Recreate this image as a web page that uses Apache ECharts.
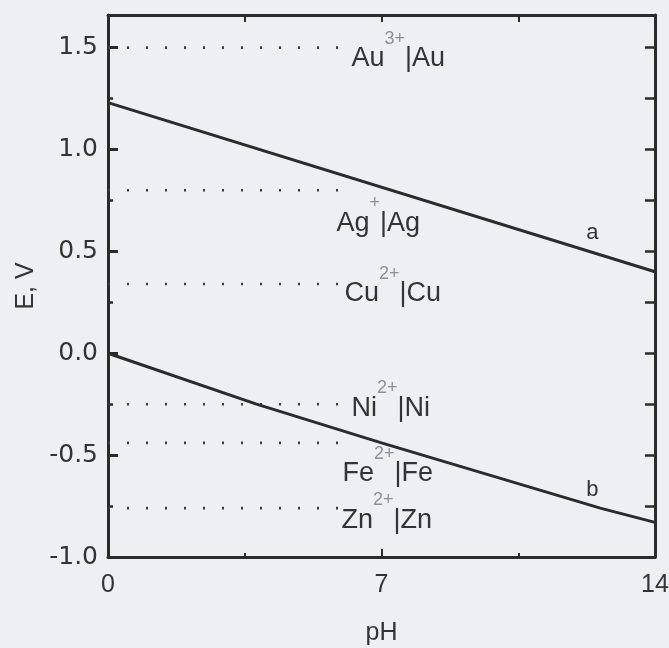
<!DOCTYPE html>
<html>
<head>
<meta charset="utf-8">
<script src="https://cdn.jsdelivr.net/npm/echarts@6/dist/echarts.min.js"></script>
<style>
  html, body { margin: 0; padding: 0; background: #edeff3; }
  #main { width: 669px; height: 648px; }
</style>
</head>
<body>
<div id="main"></div>
<script>
  // water stability lines
  const lineAPH = [0, 14]
  const lineAE = [1.23, 0.40]
  const lineBPH = [0, 3.8, 7, 12.6, 14]
  const lineBE = [0, -0.25, -0.44, -0.76, -0.83]

  // metal couples (dotted lines)
  const metals = ['Au', 'Ag', 'Cu', 'Ni', 'Fe', 'Zn']
  const charges = ['3+', '+', '2+', '2+', '2+', '2+']
  const potentials = [1.50, 0.80, 0.34, -0.25, -0.44, -0.76]
  const dotFrom = 0
  const dotTo = 5.9

  const xTicks = [0, 7, 14]
  const yTicks = [-1.0, -0.5, 0.0, 0.5, 1.0, 1.5]

  // label nudges [dx, dy] for each couple
  const labelOffsets = [[9, 11], [-6, 33], [2, 10], [9, 4], [0, 31], [-1, 12]]

  const ink = '#2b2b2b'
  const txt = '#333333'

  const series = []
  series.push({
    type: 'line', name: 'a', data: lineAPH.map((x, i) => [x, lineAE[i]]),
    symbol: 'none', lineStyle: { color: ink, width: 3 }, z: 5
  })
  series.push({
    type: 'line', name: 'b', data: lineBPH.map((x, i) => [x, lineBE[i]]),
    symbol: 'none', lineStyle: { color: ink, width: 3 }, z: 5
  })
  metals.forEach((m, i) => {
    series.push({
      type: 'line',
      name: m,
      data: [[dotFrom, potentials[i]], [dotTo, potentials[i]]],
      symbol: 'none',
      lineStyle: { color: '#3c3c3c', width: 2.6, type: [2, 17] }
    })
    series.push({
      type: 'scatter',
      name: m + ' label',
      data: [[dotTo, potentials[i]]],
      symbolSize: 0,
      itemStyle: { opacity: 1 },
      label: {
        show: true,
        position: 'right',
        distance: 4,
        offset: labelOffsets[i],
        formatter: '{el|' + m + '}{sup|' + charges[i] + '}{el||' + m + '}',
        rich: {
          el: { fontSize: 27, color: txt, fontFamily: 'Liberation Sans' },
          sup: { fontSize: 18, color: '#909090', fontFamily: 'Liberation Sans', padding: [0, 0, 40, 0] }
        }
      }
    })
  })
  // line tags a, b
  series.push({
    type: 'scatter', data: [[12.4, 0.59], [12.4, -0.67]], symbolSize: 0,
    itemStyle: { opacity: 1 },
    label: {
      show: true, position: 'inside',
      formatter: p => (p.dataIndex === 0 ? 'a' : 'b'),
      fontSize: 22, color: txt, fontFamily: 'Liberation Sans'
    }
  })

  const axisLine = { show: true, onZero: false, lineStyle: { color: ink, width: 3 } }

  const option = {
    backgroundColor: '#edeff3',
    animation: false,
    grid: { left: 108, right: 14, top: 15, bottom: 91, outerBoundsMode: 'none' },
    xAxis: [{
      type: 'value', min: 0, max: 14, interval: 7, position: 'bottom',
      name: 'pH', nameLocation: 'middle', nameGap: 64,
      nameTextStyle: { fontSize: 25, color: txt, fontFamily: 'Liberation Sans' },
      axisLine: axisLine,
      axisTick: { inside: true, length: 8, lineStyle: { color: ink, width: 2 } },
      minorTick: { show: true, splitNumber: 2, length: 4, lineStyle: { color: ink, width: 2 } },
      axisLabel: {
        margin: 16, fontSize: 25, color: txt, fontFamily: 'Liberation Sans',
        formatter: v => (xTicks.indexOf(v) >= 0 ? String(v) : '')
      },
      splitLine: { show: false }
    }, {
      type: 'value', min: 0, max: 14, interval: 3.5, position: 'top',
      axisLine: axisLine,
      axisTick: { inside: true, length: 7, lineStyle: { color: ink, width: 2 } },
      axisLabel: { show: false }, splitLine: { show: false }
    }],
    yAxis: [{
      type: 'value', min: -1, max: 1.66, interval: 0.5, position: 'left',
      name: 'E, V', nameLocation: 'middle', nameGap: 68, nameRotate: 90,
      nameTextStyle: { fontSize: 25, color: txt, fontFamily: 'Liberation Sans' },
      axisLine: axisLine,
      axisTick: { inside: true, length: 10, lineStyle: { color: ink, width: 3 } },
      axisLabel: {
        margin: 10, fontSize: 25, color: txt, fontFamily: 'DejaVu Sans',
        showMaxLabel: false,
        formatter: v => (yTicks.indexOf(v) >= 0 ? v.toFixed(1) : '')
      },
      splitLine: { show: false }
    }, {
      type: 'value', min: -1, max: 1.66, interval: 0.25, position: 'left',
      axisLine: { show: false, onZero: false },
      axisTick: { inside: true, length: 5, lineStyle: { color: ink, width: 2.5 } },
      axisLabel: { show: false }, splitLine: { show: false }
    }, {
      type: 'value', min: -1, max: 1.66, interval: 0.25, position: 'right',
      axisLine: axisLine,
      axisTick: { inside: true, length: 10, lineStyle: { color: ink, width: 2.5 } },
      axisLabel: { show: false }, splitLine: { show: false }
    }],
    series: series
  }

  const myChart = echarts.init(document.getElementById('main'))
  myChart.setOption(option)
</script>
</body>
</html>
